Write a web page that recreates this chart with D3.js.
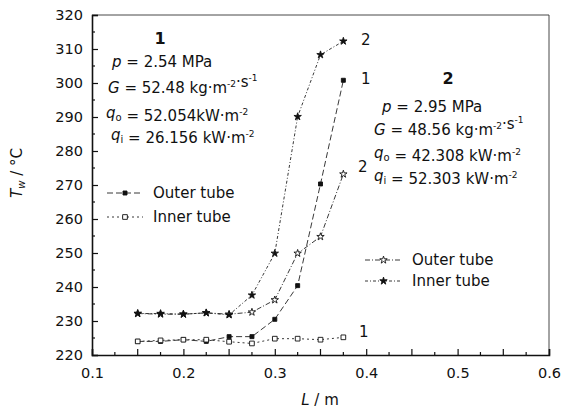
<!DOCTYPE html>
<html>
<head>
<meta charset="utf-8">
<script src="https://cdn.jsdelivr.net/npm/d3@7"></script>
<style>
body{margin:0;background:#fff;}
text{font-family:"DejaVu Sans",sans-serif;fill:#111;}
</style>
</head>
<body>
<svg id="chart" width="565" height="415"></svg>
<script>
// data
var lengthsL = [0.15,0.175,0.2,0.225,0.25,0.275,0.3,0.325,0.35,0.375];
var outer1 = [224,224,224.5,224,225.4,225.4,230.5,240.4,270.3,300.8];
var inner1 = [224,224.3,224.5,224.5,223.9,223.4,224.8,224.8,224.5,225.2];
var outer2 = [232.2,232,232,232.4,232,232.6,236.2,249.9,254.8,273.2];
var inner2 = [232.2,232.2,232,232.4,231.8,237.6,249.9,290.1,308.3,312.3];
var xTicks = [0.1,0.2,0.3,0.4,0.5,0.6];
var yTicks = [220,230,240,250,260,270,280,290,300,310,320];

var svg = d3.select("#chart");
var m = {left:92,right:549,top:15,bottom:355};

var x = d3.scaleLinear().domain([0.1,0.6]).range([m.left,m.right]);
var y = d3.scaleLinear().domain([220,320]).range([m.bottom,m.top]);

// frame top/right
svg.append("path")
    .attr("d","M"+m.left+","+m.top+"H"+m.right+"V"+m.bottom)
    .attr("fill","none").attr("stroke","#333").attr("stroke-width",0.9);

// minor ticks
var yMinor = d3.range(225,320,10);
svg.append("g").selectAll("line").data(yMinor).enter().append("line")
    .attr("x1",m.left).attr("x2",m.left+3)
    .attr("y1",function(d){return y(d)}).attr("y2",function(d){return y(d)})
    .attr("stroke","#111").attr("stroke-width",1.2);
var xMinor = d3.range(0.125,0.6,0.025).filter(function(d){return Math.abs(d*20-Math.round(d*20))>0.01});
svg.append("g").selectAll("line").data(xMinor).enter().append("line")
    .attr("y1",m.bottom).attr("y2",m.bottom-3)
    .attr("x1",function(d){return x(d)}).attr("x2",function(d){return x(d)})
    .attr("stroke","#111").attr("stroke-width",1.2);
var xMid = [0.15,0.25,0.35,0.45,0.55];
svg.append("g").selectAll("line").data(xMid).enter().append("line")
    .attr("y1",m.bottom).attr("y2",m.bottom-6)
    .attr("x1",function(d){return x(d)}).attr("x2",function(d){return x(d)})
    .attr("stroke","#111").attr("stroke-width",1.2);

var xAxis = d3.axisBottom(x).tickValues(xTicks).tickSize(-6).tickPadding(13)
    .tickFormat(d3.format(".1f"));
var gx = svg.append("g").attr("transform","translate(0,"+m.bottom+")").call(xAxis);
var yAxis = d3.axisLeft(y).tickValues(yTicks).tickSize(-6).tickPadding(10);
var gy = svg.append("g").attr("transform","translate("+m.left+",0)").call(yAxis);
[gx,gy].forEach(function(g){
    g.select(".domain").attr("stroke","#111").attr("stroke-width",1.6);
    g.selectAll(".tick line").attr("stroke","#111").attr("stroke-width",1.2);
    g.selectAll(".tick text").style("font-size","14.5px").attr("fill","#111")
        .style("font-family","DejaVu Sans, sans-serif");
});
gy.selectAll(".tick text").attr("x",-9);

// axis titles
var yl = svg.append("text").attr("transform","translate(22,173) rotate(-90)")
    .attr("text-anchor","middle").style("font-size","15px");
yl.append("tspan").style("font-style","italic").text("T");
yl.append("tspan").style("font-size","10px").attr("dy",3).style("font-style","italic").text("w");
yl.append("tspan").attr("dy",-3).text(" / °C");
var xl = svg.append("text").attr("x",320).attr("y",405).attr("text-anchor","middle").style("font-size","15px");
xl.append("tspan").style("font-style","italic").text("L");
xl.append("tspan").text(" / m");

// series
var series = [
    {v:outer1, sym:d3.symbolSquare, size:16, fill:"#111", dash:"6,3"},
    {v:inner1, sym:d3.symbolSquare, size:22, fill:"#fff", dash:"2,3"},
    {v:outer2, sym:d3.symbolStar, size:17, fill:"#fff", dash:"5,2,1,2"},
    {v:inner2, sym:d3.symbolStar, size:17, fill:"#111", dash:"3,2,1,2"}
];
var line = d3.line().x(function(d){return x(d[0])}).y(function(d){return y(d[1])});
series.forEach(function(s){
    var pts = lengthsL.map(function(l,i){return [l,s.v[i]]});
    svg.append("path").datum(pts).attr("d",line)
        .attr("fill","none").attr("stroke","#222").attr("stroke-width",0.9)
        .attr("stroke-dasharray",s.dash);
    svg.append("g").selectAll("path").data(pts).enter().append("path")
        .attr("transform",function(d){return "translate("+x(d[0])+","+y(d[1])+")"})
        .attr("d",d3.symbol().type(s.sym).size(s.size))
        .attr("fill",s.fill).attr("stroke","#111").attr("stroke-width",0.9);
});

// curve labels
var curveLabels = [["2",361,40],["1",361,79],["2",358,167],["1",359,332]];
svg.append("g").selectAll("text").data(curveLabels).enter().append("text")
    .attr("x",function(d){return d[1]}).attr("y",function(d){return d[2]})
    .attr("dy","0.35em").style("font-size","15px").text(function(d){return d[0]});

// parameter blocks
function sup(t,s){t.append("tspan").attr("dy",-6).style("font-size","9px").text(s);t.append("tspan").attr("dy",6).text("");}
function block(num,nx,ny,lines){
    svg.append("text").attr("x",nx).attr("y",ny).attr("dy","0.35em")
        .attr("text-anchor","middle").style("font-size","16px").style("font-weight","bold").text(num);
    lines.forEach(function(L){
        var t = svg.append("text").attr("x",L.x).attr("y",L.y).attr("dy","0.35em").style("font-size","15px");
        L.parts.forEach(function(p){
            if(p[0]=="i") t.append("tspan").style("font-style","italic").text(p[1]);
            else if(p[0]=="sub") {t.append("tspan").attr("dy",3).style("font-size","10px").text(p[1]);t.append("tspan").attr("dy",-3).text("");}
            else if(p[0]=="sup") sup(t,p[1]);
            else t.append("tspan").text(p[1]);
        });
    });
}
block("1",160,38,[
    {x:112,y:62,parts:[["i","p"],["t"," = 2.54 MPa"]]},
    {x:108,y:88,parts:[["i","G"],["t"," = 52.48 kg·m"],["sup","-2"],["t","·s"],["sup","-1"]]},
    {x:106,y:113,parts:[["i","q"],["sub","o"],["t"," = 52.054kW·m"],["sup","-2"]]},
    {x:111,y:135,parts:[["i","q"],["sub","i"],["t"," = 26.156 kW·m"],["sup","-2"]]}
]);
block("2",448,78,[
    {x:382,y:107,parts:[["i","p"],["t"," = 2.95 MPa"]]},
    {x:374,y:130,parts:[["i","G"],["t"," = 48.56 kg·m"],["sup","-2"],["t","·s"],["sup","-1"]]},
    {x:374,y:153,parts:[["i","q"],["sub","o"],["t"," = 42.308 kW·m"],["sup","-2"]]},
    {x:374,y:176,parts:[["i","q"],["sub","i"],["t"," = 52.303 kW·m"],["sup","-2"]]}
]);

// legends
var legends = [
    {s:series[0],x1:107,x2:143,y:193,label:"Outer tube"},
    {s:series[1],x1:107,x2:143,y:217,label:"Inner tube"},
    {s:series[2],x1:365,x2:402,y:260,label:"Outer tube"},
    {s:series[3],x1:365,x2:402,y:281,label:"Inner tube"}
];
legends.forEach(function(L){
    svg.append("line").attr("x1",L.x1).attr("x2",L.x2).attr("y1",L.y).attr("y2",L.y)
        .attr("stroke","#222").attr("stroke-width",0.9).attr("stroke-dasharray",L.s.dash);
    svg.append("path").attr("transform","translate("+((L.x1+L.x2)/2)+","+L.y+")")
        .attr("d",d3.symbol().type(L.s.sym).size(L.s.size))
        .attr("fill",L.s.fill).attr("stroke","#111").attr("stroke-width",0.9);
    svg.append("text").attr("x",L.x2+10).attr("y",L.y).attr("dy","0.35em")
        .style("font-size","15px").text(L.label);
});
</script>
</body>
</html>
